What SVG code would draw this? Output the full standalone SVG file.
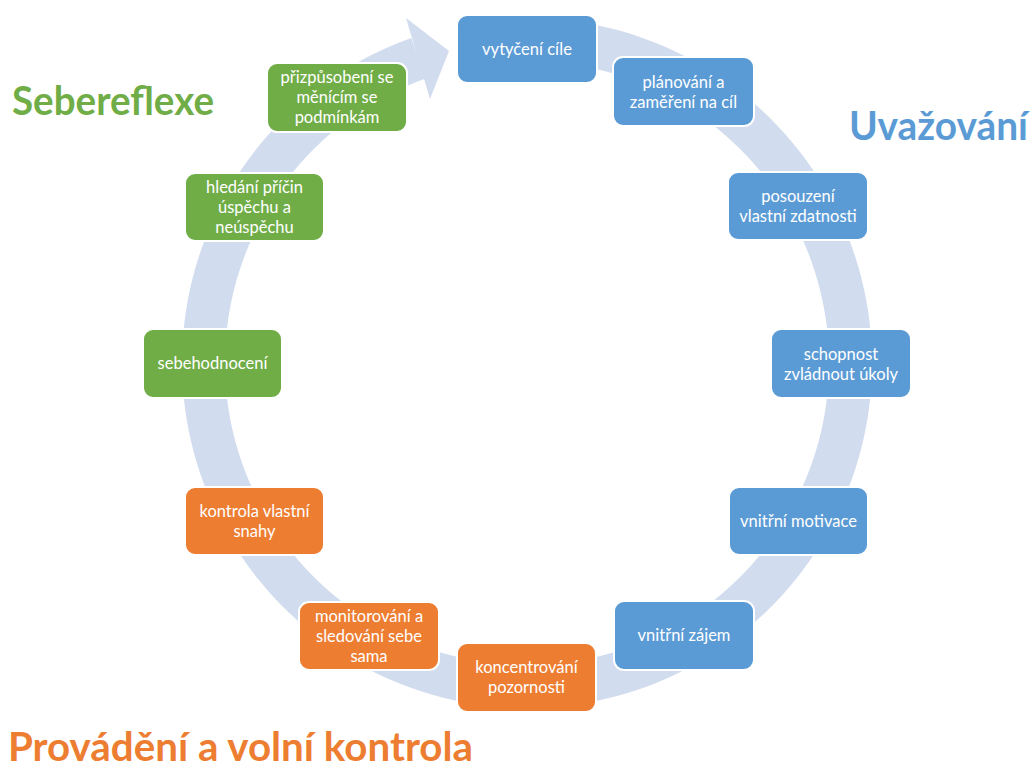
<svg xmlns="http://www.w3.org/2000/svg" width="1033" height="769" viewBox="0 0 1033 769">
<style>
.box{stroke:#ffffff;stroke-width:2}
.blue{fill:#5B9BD5}
.green{fill:#70AD47}
.orange{fill:#ED7D31}
.t{font-family:Lato,"Liberation Sans",sans-serif;font-size:16.5px;fill:#ffffff;text-anchor:middle}
.h{font-family:Lato,"Liberation Sans",sans-serif;font-weight:bold;font-size:40px}
</style>
<rect width="1033" height="769" fill="#ffffff"/>
<g id="connectors">
<path d="M467.09 23.24 A345 345 0 1 1 411.27 37.99 L425.69 78.5 A302 302 0 1 0 474.56 65.59 Z" fill="#D2DCEF"/>
<polygon points="406,18 449,51 430,99" fill="#D2DCEF"/>
</g>
<g id="n1"><rect class="box blue" x="457" y="15" width="140" height="68" rx="10"/><text class="t" x="527" y="54.5">vytyčení cíle</text></g>
<g id="n2"><rect class="box blue" x="613" y="57" width="141" height="69" rx="10"/><text class="t" x="683.5" y="87.5">plánování a</text><text class="t" x="683.5" y="107.5">zaměření na cíl</text></g>
<g id="n3"><rect class="box blue" x="728" y="172" width="140" height="68" rx="10"/><text class="t" x="798" y="202">posouzení</text><text class="t" x="798" y="222">vlastní zdatnosti</text></g>
<g id="n4"><rect class="box blue" x="771" y="329" width="140" height="69" rx="10"/><text class="t" x="841" y="359.5">schopnost</text><text class="t" x="841" y="379.5">zvládnout úkoly</text></g>
<g id="n5"><rect class="box blue" x="729" y="487" width="139" height="68" rx="10"/><text class="t" x="798.5" y="526.5">vnitřní motivace</text></g>
<g id="n6"><rect class="box blue" x="614" y="601" width="140" height="69" rx="10"/><text class="t" x="684" y="641">vnitřní zájem</text></g>
<g id="n7"><rect class="box orange" x="457" y="643" width="139" height="69" rx="10"/><text class="t" x="526.5" y="673">koncentrování</text><text class="t" x="526.5" y="693">pozornosti</text></g>
<g id="n8"><rect class="box orange" x="299" y="602" width="140" height="68" rx="10"/><text class="t" x="369" y="621.5">monitorování a</text><text class="t" x="369" y="641.5">sledování sebe</text><text class="t" x="369" y="661.5">sama</text></g>
<g id="n9"><rect class="box orange" x="185" y="487" width="139" height="68" rx="10"/><text class="t" x="254.5" y="517">kontrola vlastní</text><text class="t" x="254.5" y="537">snahy</text></g>
<g id="n10"><rect class="box green" x="143" y="329" width="139" height="69" rx="10"/><text class="t" x="212.5" y="369">sebehodnocení</text></g>
<g id="n11"><rect class="box green" x="185" y="173" width="139" height="68" rx="10"/><text class="t" x="254.5" y="192.5">hledání příčin</text><text class="t" x="254.5" y="212.5">úspěchu a</text><text class="t" x="254.5" y="232.5">neúspěchu</text></g>
<g id="n12"><rect class="box green" x="267" y="63" width="140" height="69" rx="10"/><text class="t" x="337" y="83">přizpůsobení se</text><text class="t" x="337" y="103">měnícím se</text><text class="t" x="337" y="123">podmínkám</text></g>
<g id="labels">
<text class="h" x="12" y="115" fill="#70AD47" textLength="202" lengthAdjust="spacingAndGlyphs">Sebereflexe</text>
<text class="h" x="849" y="140" fill="#5B9BD5" textLength="179" lengthAdjust="spacingAndGlyphs">Uvažování</text>
<text class="h" x="8" y="761" fill="#ED7D31" textLength="465" lengthAdjust="spacingAndGlyphs">Provádění a volní kontrola</text>
</g>
</svg>
